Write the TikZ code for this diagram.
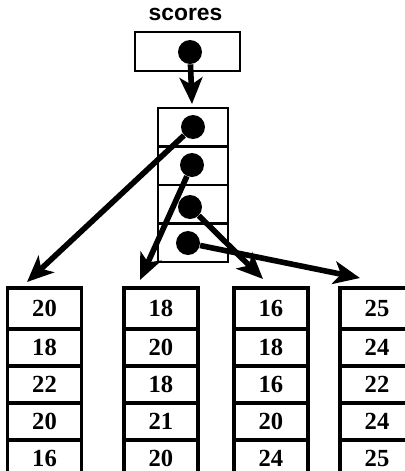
\documentclass[tikz,border=0pt]{standalone}
\usepackage{fontspec}
\setmainfont{Liberation Serif}
\setsansfont{Liberation Sans}
\usepackage{tikz}
\usetikzlibrary{arrows.meta}
\tikzset{
  ptr/.style={-{Stealth[length=15pt, width=13pt, inset=4pt]}, line width=3.2pt},
  refbox/.style={draw, line width=1.6pt, minimum width=2.1cm, minimum height=0.78cm},
  slot/.style={draw, line width=1.5pt, minimum width=1.4cm, minimum height=0.77cm},
  cell/.style={draw, line width=2.2pt, minimum width=1.48cm, font=\fontsize{14}{16}\selectfont\bfseries},
  dot/.style={circle, fill=black, inner sep=0pt, minimum size=0.48cm},
  title/.style={font=\fontsize{13}{15}\selectfont\sffamily\bfseries}
}
\begin{document}
\begin{tikzpicture}[x=0.02cm, y=-0.02cm]
  \clip (0,0) rectangle (405,471);
  \node[title] (lbl) at (185.5,14) {scores};
  \node[refbox] (s) at (187.5,51.5) {};
  % array of references
  \foreach \i in {1,...,4}
    \node[slot] (m\i) at (193,{108+38.5*(\i-0.5)}) {};
  % the four score lists
  \foreach \col/\cx/\vals in {a/44.5/{20,18,22,20,16}, b/161/{18,20,18,21,20},
                             c/271/{16,18,16,20,24}, d/377/{25,24,22,24,25}}
    \foreach \v [count=\i] in \vals {
      \pgfmathsetmacro\cy{\i==1 ? 308.5 : 347.5+37*(\i-2)}
      \pgfmathsetmacro\ch{\i==1 ? 41 : 37}
      \node[cell, minimum height=\ch*0.02cm] (\col\i) at (\cx,\cy) {\v};
    }
  \node[dot] (ds) at (190,52) {};
  \node[dot] (d1) at (193,127) {};
  \node[dot] (d2) at (192,165) {};
  \node[dot] (d3) at (190,207) {};
  \node[dot] (d4) at (188,243) {};
  \coordinate (t0) at (192,104);
  \coordinate (t1) at (27,282);
  \coordinate (t2) at (140,280);
  \coordinate (t3) at (263,279);
  \coordinate (t4) at (360,278);
  \draw[ptr] (ds) -- (t0);
  \draw[ptr] (d1) -- (t1);
  \draw[ptr] (d2) -- (t2);
  \draw[ptr] (d3) -- (t3);
  \draw[ptr] (d4) -- (t4);
\end{tikzpicture}
\end{document}
